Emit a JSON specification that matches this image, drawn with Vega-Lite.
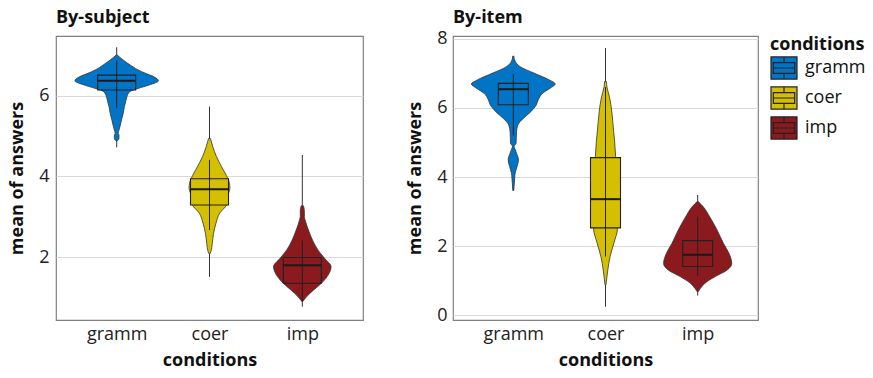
{
  "$schema": "https://vega.github.io/schema/vega-lite/v6.json",
  "padding": {"left": 8, "top": 8, "right": 0, "bottom": 0},
  "background": "white",
  "config": {
    "font": "Open Sans",
    "view": {"stroke": "#808080", "strokeWidth": 1.2},
    "axis": {"labelFont": "Open Sans", "labelFontSize": 18, "labelColor": "#222", "titleFont": "Open Sans", "titleFontSize": 18, "titleFontWeight": "bold", "titleColor": "#111", "ticks": false, "domain": false, "gridColor": "#d9d9d9", "gridWidth": 1.2},
    "title": {"font": "Open Sans", "fontSize": 18, "fontWeight": "bold", "anchor": "start", "frame": "group", "color": "#111", "baseline": "alphabetic"},
    "legend": {"titleFont": "Open Sans", "labelFont": "Open Sans", "titleFontSize": 18, "titleFontWeight": "bold", "titleColor": "#111", "labelFontSize": 18, "labelColor": "#111", "symbolType": "M-1,-0.85H1V0.85H-1Z M-0.82,-0.42H0.82V0.42H-0.82Z M-0.82,0H0.82 M0,-0.85V-0.42 M0,0.42V0.85", "symbolSize": 676, "symbolStrokeColor": "#222", "symbolStrokeWidth": 1.2, "rowPadding": 2, "titlePadding": 0, "offset": 11, "labelOffset": 7, "padding": 0},
    "concat": {"spacing": 42}
  },
  "datasets": {
    "violin": [
      {"panel": "subject", "cond": "gramm", "v": 7.01, "w": 0.005},
      {"panel": "subject", "cond": "gramm", "v": 6.95, "w": 0.035},
      {"panel": "subject", "cond": "gramm", "v": 6.885, "w": 0.07},
      {"panel": "subject", "cond": "gramm", "v": 6.76, "w": 0.146},
      {"panel": "subject", "cond": "gramm", "v": 6.64, "w": 0.23},
      {"panel": "subject", "cond": "gramm", "v": 6.555, "w": 0.31},
      {"panel": "subject", "cond": "gramm", "v": 6.47, "w": 0.4},
      {"panel": "subject", "cond": "gramm", "v": 6.37, "w": 0.45},
      {"panel": "subject", "cond": "gramm", "v": 6.265, "w": 0.35},
      {"panel": "subject", "cond": "gramm", "v": 6.18, "w": 0.23},
      {"panel": "subject", "cond": "gramm", "v": 6.1, "w": 0.14},
      {"panel": "subject", "cond": "gramm", "v": 5.975, "w": 0.11},
      {"panel": "subject", "cond": "gramm", "v": 5.85, "w": 0.097},
      {"panel": "subject", "cond": "gramm", "v": 5.73, "w": 0.083},
      {"panel": "subject", "cond": "gramm", "v": 5.56, "w": 0.07},
      {"panel": "subject", "cond": "gramm", "v": 5.4, "w": 0.052},
      {"panel": "subject", "cond": "gramm", "v": 5.23, "w": 0.035},
      {"panel": "subject", "cond": "gramm", "v": 5.11, "w": 0.02},
      {"panel": "subject", "cond": "gramm", "v": 5.06, "w": 0.016},
      {"panel": "subject", "cond": "gramm", "v": 5.03, "w": 0.025},
      {"panel": "subject", "cond": "gramm", "v": 4.93, "w": 0.024},
      {"panel": "subject", "cond": "gramm", "v": 4.88, "w": 0.005},
      {"panel": "subject", "cond": "coer", "v": 4.94, "w": 0.01},
      {"panel": "subject", "cond": "coer", "v": 4.74, "w": 0.035},
      {"panel": "subject", "cond": "coer", "v": 4.49, "w": 0.075},
      {"panel": "subject", "cond": "coer", "v": 4.24, "w": 0.13},
      {"panel": "subject", "cond": "coer", "v": 4.03, "w": 0.18},
      {"panel": "subject", "cond": "coer", "v": 3.83, "w": 0.215},
      {"panel": "subject", "cond": "coer", "v": 3.7, "w": 0.22},
      {"panel": "subject", "cond": "coer", "v": 3.58, "w": 0.205},
      {"panel": "subject", "cond": "coer", "v": 3.4, "w": 0.2},
      {"panel": "subject", "cond": "coer", "v": 3.29, "w": 0.185},
      {"panel": "subject", "cond": "coer", "v": 3.09, "w": 0.11},
      {"panel": "subject", "cond": "coer", "v": 2.84, "w": 0.07},
      {"panel": "subject", "cond": "coer", "v": 2.59, "w": 0.044},
      {"panel": "subject", "cond": "coer", "v": 2.34, "w": 0.03},
      {"panel": "subject", "cond": "coer", "v": 2.14, "w": 0.016},
      {"panel": "subject", "cond": "coer", "v": 2.08, "w": 0.005},
      {"panel": "subject", "cond": "imp", "v": 3.27, "w": 0.012},
      {"panel": "subject", "cond": "imp", "v": 3.15, "w": 0.022},
      {"panel": "subject", "cond": "imp", "v": 3.0, "w": 0.022},
      {"panel": "subject", "cond": "imp", "v": 2.92, "w": 0.03},
      {"panel": "subject", "cond": "imp", "v": 2.67, "w": 0.066},
      {"panel": "subject", "cond": "imp", "v": 2.42, "w": 0.11},
      {"panel": "subject", "cond": "imp", "v": 2.17, "w": 0.17},
      {"panel": "subject", "cond": "imp", "v": 1.97, "w": 0.24},
      {"panel": "subject", "cond": "imp", "v": 1.76, "w": 0.31},
      {"panel": "subject", "cond": "imp", "v": 1.56, "w": 0.28},
      {"panel": "subject", "cond": "imp", "v": 1.35, "w": 0.205},
      {"panel": "subject", "cond": "imp", "v": 1.18, "w": 0.12},
      {"panel": "subject", "cond": "imp", "v": 1.06, "w": 0.063},
      {"panel": "subject", "cond": "imp", "v": 0.97, "w": 0.03},
      {"panel": "subject", "cond": "imp", "v": 0.9, "w": 0.005},
      {"panel": "item", "cond": "gramm", "v": 7.5, "w": 0.005},
      {"panel": "item", "cond": "gramm", "v": 7.35, "w": 0.02},
      {"panel": "item", "cond": "gramm", "v": 7.2, "w": 0.07},
      {"panel": "item", "cond": "gramm", "v": 7.0, "w": 0.23},
      {"panel": "item", "cond": "gramm", "v": 6.81, "w": 0.39},
      {"panel": "item", "cond": "gramm", "v": 6.69, "w": 0.455},
      {"panel": "item", "cond": "gramm", "v": 6.57, "w": 0.4},
      {"panel": "item", "cond": "gramm", "v": 6.43, "w": 0.32},
      {"panel": "item", "cond": "gramm", "v": 6.23, "w": 0.27},
      {"panel": "item", "cond": "gramm", "v": 6.09, "w": 0.25},
      {"panel": "item", "cond": "gramm", "v": 5.89, "w": 0.19},
      {"panel": "item", "cond": "gramm", "v": 5.7, "w": 0.11},
      {"panel": "item", "cond": "gramm", "v": 5.51, "w": 0.05},
      {"panel": "item", "cond": "gramm", "v": 5.31, "w": 0.035},
      {"panel": "item", "cond": "gramm", "v": 4.98, "w": 0.03},
      {"panel": "item", "cond": "gramm", "v": 4.88, "w": 0.008},
      {"panel": "item", "cond": "gramm", "v": 4.8, "w": 0.02},
      {"panel": "item", "cond": "gramm", "v": 4.69, "w": 0.035},
      {"panel": "item", "cond": "gramm", "v": 4.5, "w": 0.056},
      {"panel": "item", "cond": "gramm", "v": 4.3, "w": 0.04},
      {"panel": "item", "cond": "gramm", "v": 4.11, "w": 0.02},
      {"panel": "item", "cond": "gramm", "v": 3.97, "w": 0.015},
      {"panel": "item", "cond": "gramm", "v": 3.61, "w": 0.005},
      {"panel": "item", "cond": "coer", "v": 6.76, "w": 0.01},
      {"panel": "item", "cond": "coer", "v": 6.6, "w": 0.016},
      {"panel": "item", "cond": "coer", "v": 6.45, "w": 0.03},
      {"panel": "item", "cond": "coer", "v": 6.33, "w": 0.042},
      {"panel": "item", "cond": "coer", "v": 5.85, "w": 0.07},
      {"panel": "item", "cond": "coer", "v": 5.36, "w": 0.087},
      {"panel": "item", "cond": "coer", "v": 5.07, "w": 0.098},
      {"panel": "item", "cond": "coer", "v": 4.59, "w": 0.11},
      {"panel": "item", "cond": "coer", "v": 4.0, "w": 0.125},
      {"panel": "item", "cond": "coer", "v": 3.4, "w": 0.13},
      {"panel": "item", "cond": "coer", "v": 2.9, "w": 0.13},
      {"panel": "item", "cond": "coer", "v": 2.52, "w": 0.13},
      {"panel": "item", "cond": "coer", "v": 2.08, "w": 0.09},
      {"panel": "item", "cond": "coer", "v": 1.7, "w": 0.05},
      {"panel": "item", "cond": "coer", "v": 1.31, "w": 0.025},
      {"panel": "item", "cond": "coer", "v": 1.12, "w": 0.016},
      {"panel": "item", "cond": "coer", "v": 0.88, "w": 0.005},
      {"panel": "item", "cond": "imp", "v": 3.29, "w": 0.005},
      {"panel": "item", "cond": "imp", "v": 3.14, "w": 0.06},
      {"panel": "item", "cond": "imp", "v": 2.85, "w": 0.13},
      {"panel": "item", "cond": "imp", "v": 2.47, "w": 0.21},
      {"panel": "item", "cond": "imp", "v": 2.08, "w": 0.28},
      {"panel": "item", "cond": "imp", "v": 1.79, "w": 0.34},
      {"panel": "item", "cond": "imp", "v": 1.5, "w": 0.37},
      {"panel": "item", "cond": "imp", "v": 1.31, "w": 0.32},
      {"panel": "item", "cond": "imp", "v": 1.12, "w": 0.19},
      {"panel": "item", "cond": "imp", "v": 0.93, "w": 0.08},
      {"panel": "item", "cond": "imp", "v": 0.78, "w": 0.03},
      {"panel": "item", "cond": "imp", "v": 0.68, "w": 0.005}
    ],
    "summary": [
      {"panel": "subject", "cond": "gramm", "mn": 4.72, "mx": 7.2, "wlo": 5.69, "whi": 6.88, "q1": 6.14, "med": 6.37, "q3": 6.51},
      {"panel": "subject", "cond": "coer", "mn": 1.51, "mx": 5.73, "wlo": 2.67, "whi": 4.41, "q1": 3.29, "med": 3.68, "q3": 3.94},
      {"panel": "subject", "cond": "imp", "mn": 0.77, "mx": 4.53, "wlo": 0.9, "whi": 2.41, "q1": 1.35, "med": 1.8, "q3": 1.99},
      {"panel": "item", "cond": "gramm", "mn": 3.61, "mx": 7.5, "wlo": 5.2, "whi": 6.98, "q1": 6.09, "med": 6.54, "q3": 6.71},
      {"panel": "item", "cond": "coer", "mn": 0.25, "mx": 7.73, "wlo": 1.7, "whi": 6.6, "q1": 2.53, "med": 3.36, "q3": 4.56},
      {"panel": "item", "cond": "imp", "mn": 0.57, "mx": 3.48, "wlo": 1.14, "whi": 2.85, "q1": 1.41, "med": 1.75, "q3": 2.16}
    ]
  },
  "hconcat": [
    {
      "title": {"text": "By-subject", "offset": 9},
      "width": 307,
      "height": 284,
      "layer": [
        {
          "data": {"name": "summary"},
          "transform": [{"filter": "datum.panel == 'subject'"}, {"calculate": "indexof(['gramm','coer','imp'], datum.cond) + 1", "as": "c"}],
          "mark": {"type": "rule", "color": "#333", "strokeWidth": 1},
          "encoding": {
            "x": {"field": "c", "type": "quantitative", "scale": {"domain": [0.4, 3.6], "nice": false, "zero": false}, "axis": {"values": [1, 2, 3], "grid": false, "labelExpr": "datum.value == 1 ? 'gramm' : datum.value == 2 ? 'coer' : 'imp'", "labelPadding": 5, "titlePadding": 8}, "title": "conditions"},
            "y": {"field": "mn", "type": "quantitative", "scale": {"domain": [0.44, 7.48], "nice": false, "zero": false}, "axis": {"values": [2, 4, 6], "grid": true, "labelPadding": 7, "titlePadding": 12}, "title": "mean of answers"},
            "y2": {"field": "mx"}
          }
        },
        {
          "data": {"name": "violin"},
          "transform": [{"filter": "datum.panel == 'subject'"}, {"calculate": "indexof(['gramm','coer','imp'], datum.cond) + 1", "as": "c"}, {"calculate": "datum.c - datum.w", "as": "lo"}, {"calculate": "datum.c + datum.w", "as": "hi"}],
          "mark": {"type": "area", "orient": "horizontal", "interpolate": "monotone", "stroke": "#333", "strokeWidth": 0.8, "opacity": 1},
          "encoding": {
            "y": {"field": "v", "type": "quantitative", "title": "mean of answers"},
            "x": {"field": "lo", "type": "quantitative", "title": "conditions"},
            "x2": {"field": "hi"},
            "color": {"field": "cond", "type": "nominal", "scale": {"domain": ["gramm", "coer", "imp"], "range": ["#0274c6", "#d4bf00", "#8a1a1e"]}, "title": "conditions"}
          }
        },
        {
          "data": {"name": "summary"},
          "transform": [{"filter": "datum.panel == 'subject'"}, {"calculate": "indexof(['gramm','coer','imp'], datum.cond) + 1", "as": "c"}],
          "mark": {"type": "bar", "width": 38, "stroke": "#222", "strokeWidth": 1.1, "opacity": 1},
          "encoding": {
            "x": {"field": "c", "type": "quantitative", "title": "conditions"},
            "y": {"field": "q1", "type": "quantitative", "title": "mean of answers"},
            "y2": {"field": "q3"},
            "color": {"field": "cond", "type": "nominal", "title": "conditions"}
          }
        },
        {
          "data": {"name": "summary"},
          "transform": [{"filter": "datum.panel == 'subject'"}, {"calculate": "indexof(['gramm','coer','imp'], datum.cond) + 1", "as": "c"}],
          "mark": {"type": "rule", "color": "#222", "strokeWidth": 1},
          "encoding": {
            "x": {"field": "c", "type": "quantitative", "title": "conditions"},
            "y": {"field": "wlo", "type": "quantitative", "title": "mean of answers"},
            "y2": {"field": "whi"}
          }
        },
        {
          "data": {"name": "summary"},
          "transform": [{"filter": "datum.panel == 'subject'"}, {"calculate": "indexof(['gramm','coer','imp'], datum.cond) + 1", "as": "c"}],
          "mark": {"type": "tick", "orient": "horizontal", "size": 38, "thickness": 2, "color": "#1a1a1a", "opacity": 1},
          "encoding": {
            "x": {"field": "c", "type": "quantitative", "title": "conditions"},
            "y": {"field": "med", "type": "quantitative", "title": "mean of answers"}
          }
        }
      ]
    },
    {
      "title": {"text": "By-item", "offset": 3},
      "width": 305,
      "height": 284,
      "layer": [
        {
          "data": {"name": "summary"},
          "transform": [{"filter": "datum.panel == 'item'"}, {"calculate": "indexof(['gramm','coer','imp'], datum.cond) + 1", "as": "c"}],
          "mark": {"type": "rule", "color": "#333", "strokeWidth": 1},
          "encoding": {
            "x": {"field": "c", "type": "quantitative", "scale": {"domain": [0.4, 3.6], "nice": false, "zero": false}, "axis": {"values": [1, 2, 3], "grid": false, "labelExpr": "datum.value == 1 ? 'gramm' : datum.value == 2 ? 'coer' : 'imp'", "labelPadding": 5, "titlePadding": 8}, "title": "conditions"},
            "y": {"field": "mn", "type": "quantitative", "scale": {"domain": [-0.136, 8.08], "nice": false, "zero": false}, "axis": {"values": [0, 2, 4, 6, 8], "grid": true, "labelPadding": 6, "titlePadding": 12}, "title": "mean of answers"},
            "y2": {"field": "mx"}
          }
        },
        {
          "mark": {"type": "rule", "color": "#333", "strokeWidth": 1.2},
          "encoding": {"y": {"datum": 0}}
        },
        {
          "data": {"name": "violin"},
          "transform": [{"filter": "datum.panel == 'item'"}, {"calculate": "indexof(['gramm','coer','imp'], datum.cond) + 1", "as": "c"}, {"calculate": "datum.c - datum.w", "as": "lo"}, {"calculate": "datum.c + datum.w", "as": "hi"}],
          "mark": {"type": "area", "orient": "horizontal", "interpolate": "monotone", "stroke": "#333", "strokeWidth": 0.8, "opacity": 1},
          "encoding": {
            "y": {"field": "v", "type": "quantitative", "title": "mean of answers"},
            "x": {"field": "lo", "type": "quantitative", "title": "conditions"},
            "x2": {"field": "hi"},
            "color": {"field": "cond", "type": "nominal", "scale": {"domain": ["gramm", "coer", "imp"], "range": ["#0274c6", "#d4bf00", "#8a1a1e"]}, "title": "conditions"}
          }
        },
        {
          "data": {"name": "summary"},
          "transform": [{"filter": "datum.panel == 'item'"}, {"calculate": "indexof(['gramm','coer','imp'], datum.cond) + 1", "as": "c"}],
          "mark": {"type": "bar", "width": 30, "stroke": "#222", "strokeWidth": 1.1, "opacity": 1},
          "encoding": {
            "x": {"field": "c", "type": "quantitative", "title": "conditions"},
            "y": {"field": "q1", "type": "quantitative", "title": "mean of answers"},
            "y2": {"field": "q3"},
            "color": {"field": "cond", "type": "nominal", "title": "conditions"}
          }
        },
        {
          "data": {"name": "summary"},
          "transform": [{"filter": "datum.panel == 'item'"}, {"calculate": "indexof(['gramm','coer','imp'], datum.cond) + 1", "as": "c"}],
          "mark": {"type": "rule", "color": "#222", "strokeWidth": 1},
          "encoding": {
            "x": {"field": "c", "type": "quantitative", "title": "conditions"},
            "y": {"field": "wlo", "type": "quantitative", "title": "mean of answers"},
            "y2": {"field": "whi"}
          }
        },
        {
          "data": {"name": "summary"},
          "transform": [{"filter": "datum.panel == 'item'"}, {"calculate": "indexof(['gramm','coer','imp'], datum.cond) + 1", "as": "c"}],
          "mark": {"type": "tick", "orient": "horizontal", "size": 30, "thickness": 2, "color": "#1a1a1a", "opacity": 1},
          "encoding": {
            "x": {"field": "c", "type": "quantitative", "title": "conditions"},
            "y": {"field": "med", "type": "quantitative", "title": "mean of answers"}
          }
        }
      ]
    }
  ],
  "resolve": {"scale": {"color": "shared", "x": "independent", "y": "independent"}}
}
